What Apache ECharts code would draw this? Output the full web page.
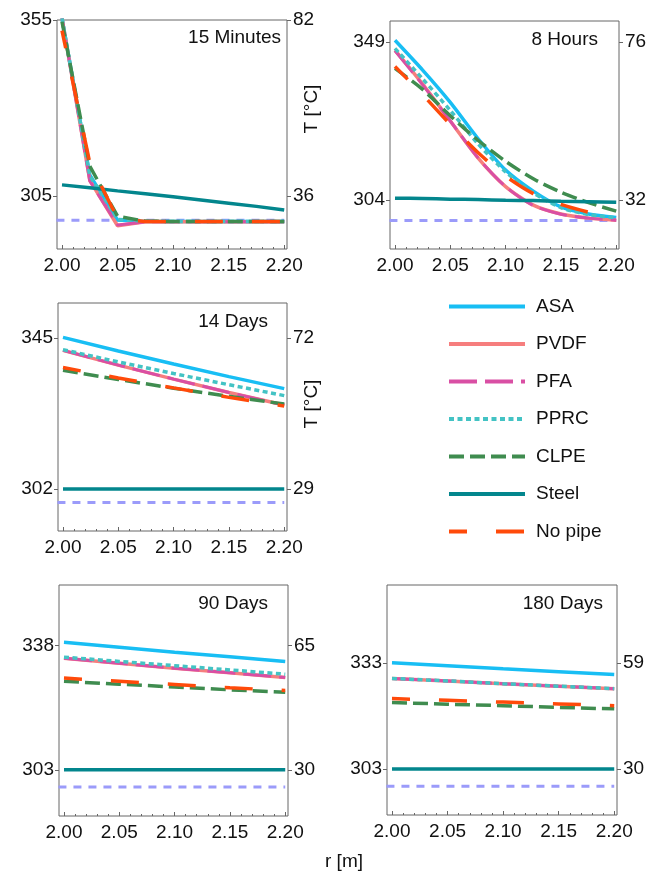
<!DOCTYPE html>
<html>
<head>
<meta charset="utf-8">
<script src="https://cdn.jsdelivr.net/npm/echarts@6/dist/echarts.min.js"></script>
<style>
html,body{margin:0;padding:0;background:#fff}
#chart{width:663px;height:875px}
</style>
</head>
<body>
<div id="chart"></div>
<script>
// radius nodes
var rFine = [2.000, 2.025, 2.050, 2.075, 2.100, 2.125, 2.150, 2.175, 2.200];
var rCoarse = [2.00, 2.05, 2.10, 2.15, 2.20];
var rInitial = [1.995, 2.20];
var rTicks = [2.00, 2.05, 2.10, 2.15, 2.20];
var rMinorTicks = [2.01, 2.02, 2.03, 2.04, 2.06, 2.07, 2.08, 2.09, 2.11, 2.12, 2.13, 2.14, 2.16, 2.17, 2.18, 2.19];

// initial ground temperature [K]
var initialT = [298.15, 298.15];

// 15 minutes
var asa15min    = [355.5, 311.0, 298.2, 297.8, 297.8, 297.8, 297.8, 297.8, 297.8];
var pvdf15min   = [355.5, 309.5, 296.6, 297.7, 297.7, 297.7, 297.7, 297.7, 297.7];
var pfa15min    = [355.5, 309.3, 296.8, 297.7, 297.7, 297.7, 297.7, 297.7, 297.7];
var pprc15min   = [355.5, 310.8, 298.4, 297.9, 297.8, 297.8, 297.8, 297.8, 297.8];
var clpe15min   = [354.5, 313.5, 299.3, 297.9, 297.8, 297.8, 297.8, 297.8, 297.8];
var steel15min  = [308.2, 307.4, 306.5, 305.7, 304.8, 303.9, 303.0, 302.1, 301.1];
var noPipe15min = [352.0, 314.5, 298.6, 297.8, 297.8, 297.8, 297.8, 297.8, 297.8];

// 8 hours
var asa8h    = [349.5, 341.0, 331.8, 321.5, 312.5, 306.5, 302.0, 300.0, 299.0];
var pvdf8h   = [346.7, 337.0, 326.5, 316.0, 307.8, 302.5, 300.0, 298.8, 298.2];
var pfa8h    = [346.5, 336.8, 326.5, 316.0, 307.8, 302.4, 299.9, 298.8, 298.2];
var pprc8h   = [347.2, 338.5, 329.5, 320.0, 312.0, 306.0, 301.8, 299.8, 298.9];
var clpe8h   = [341.5, 335.5, 328.0, 321.0, 315.0, 310.0, 306.2, 303.2, 300.8];
var steel8h  = [304.5, 304.4, 304.2, 304.1, 303.9, 303.8, 303.6, 303.5, 303.3];
var noPipe8h = [342.0, 334.0, 325.5, 317.5, 310.8, 305.8, 302.7, 300.5, 298.9];

// 14 days
var asa14d    = [345.2, 341.3, 337.6, 334.0, 330.6];
var pvdf14d   = [341.5, 337.3, 333.3, 329.5, 325.9];
var pfa14d    = [341.5, 337.3, 333.3, 329.5, 325.9];
var pprc14d   = [341.7, 338.2, 334.9, 331.7, 328.6];
var clpe14d   = [335.8, 333.2, 330.7, 328.4, 326.2];
var steel14d  = [302.0, 302.0, 302.0, 302.0, 302.0];
var noPipe14d = [336.6, 333.6, 330.8, 328.1, 325.6];

// 90 days
var asa90d    = [338.9, 337.5, 336.1, 334.8, 333.5];
var pvdf90d   = [334.4, 333.0, 331.6, 330.3, 329.0];
var pfa90d    = [334.4, 333.0, 331.6, 330.3, 329.0];
var pprc90d   = [334.7, 333.5, 332.3, 331.1, 329.9];
var clpe90d   = [327.9, 327.1, 326.3, 325.5, 324.8];
var steel90d  = [303.0, 303.0, 303.0, 303.0, 303.0];
var noPipe90d = [328.8, 327.9, 327.0, 326.1, 325.3];

// 180 days
var asa180d    = [333.0, 332.2, 331.3, 330.5, 329.7];
var pvdf180d   = [328.6, 327.9, 327.1, 326.4, 325.7];
var pfa180d    = [328.6, 327.9, 327.1, 326.4, 325.7];
var pprc180d   = [328.6, 327.9, 327.1, 326.4, 325.7];
var clpe180d   = [321.8, 321.3, 320.9, 320.4, 320.0];
var steel180d  = [303.0, 303.0, 303.0, 303.0, 303.0];
var noPipe180d = [322.9, 322.4, 321.9, 321.4, 320.9];

// tick labels: kelvin on the left, celsius on the right
var kTicks15min = [305, 355], cTicks15min = [36, 82];
var kTicks8h = [304, 349],    cTicks8h = [32, 76];
var kTicks14d = [302, 345],   cTicks14d = [29, 72];
var kTicks90d = [303, 338],   cTicks90d = [30, 65];
var kTicks180d = [303, 333],  cTicks180d = [30, 59];

var materials = ['ASA', 'PVDF', 'PFA', 'PPRC', 'CLPE', 'Steel', 'No pipe'];
var styles = {
  'ASA':     {color: '#18BEF4', width: 3.5, type: 'solid'},
  'PVDF':    {color: '#F67E7E', width: 3.5, type: 'solid'},
  'PFA':     {color: '#D94FA4', width: 3,   type: [28, 8]},
  'PPRC':    {color: '#43C3C4', width: 3.5, type: [5, 3.5]},
  'CLPE':    {color: '#3F8C4F', width: 3.5, type: [15, 6]},
  'Steel':   {color: '#03868D', width: 3.5, type: 'solid'},
  'No pipe': {color: '#FF4A0A', width: 3.5, type: [28, 29], dashOffset: 10}
};
var FONT = 'Liberation Sans, Arial, sans-serif';

var panels = [
  {box: {left: 57, top: 20, width: 230, height: 229}, r: rFine, kTicks: kTicks15min, cTicks: cTicks15min, smooth: false,
   lines: [asa15min, pvdf15min, pfa15min, pprc15min, clpe15min, steel15min, noPipe15min], title: '15 Minutes', tx: 281, ty: 38},
  {box: {left: 390, top: 21, width: 229, height: 228}, r: rFine, kTicks: kTicks8h, cTicks: cTicks8h, smooth: 0.25,
   lines: [asa8h, pvdf8h, pfa8h, pprc8h, clpe8h, steel8h, noPipe8h], title: '8 Hours', tx: 598, ty: 40},
  {box: {left: 58, top: 303, width: 229, height: 228}, r: rCoarse, kTicks: kTicks14d, cTicks: cTicks14d, smooth: false,
   lines: [asa14d, pvdf14d, pfa14d, pprc14d, clpe14d, steel14d, noPipe14d], title: '14 Days', tx: 268, ty: 322},
  {box: {left: 59, top: 585, width: 229, height: 231}, r: rCoarse, kTicks: kTicks90d, cTicks: cTicks90d, smooth: false,
   lines: [asa90d, pvdf90d, pfa90d, pprc90d, clpe90d, steel90d, noPipe90d], title: '90 Days', tx: 268, ty: 604},
  {box: {left: 387, top: 585, width: 230, height: 230}, r: rCoarse, kTicks: kTicks180d, cTicks: cTicks180d, smooth: false,
   lines: [asa180d, pvdf180d, pfa180d, pprc180d, clpe180d, steel180d, noPipe180d], title: '180 Days', tx: 603, ty: 604}
];

function zip(xs, ys) {
  return xs.map(function (x, i) { return [x, ys[i]]; });
}

var grids = [], xAxes = [], yAxes = [], series = [], graphics = [];
var tickColor = '#666';

panels.forEach(function (p, i) {
  grids.push({left: p.box.left, top: p.box.top, width: p.box.width, height: p.box.height,
    show: true, borderColor: '#666', borderWidth: 1, backgroundColor: 'transparent'});

  xAxes.push({
    type: 'value', gridIndex: i, min: 1.9955, max: 2.2025, position: 'bottom',
    axisLine: {show: false}, splitLine: {show: false},
    axisTick: {show: true, inside: true, length: 4, customValues: rTicks, lineStyle: {color: tickColor}},
    axisLabel: {customValues: rTicks, formatter: function (v) { return v.toFixed(2); },
      fontSize: 19, fontFamily: FONT, color: '#111', margin: 7}
  });
  // minor ticks, pushed down onto the bottom edge
  xAxes.push({
    type: 'value', gridIndex: i, min: 1.9955, max: 2.2025, position: 'top', offset: -p.box.height,
    axisLine: {show: false}, splitLine: {show: false}, axisLabel: {show: false},
    axisTick: {show: true, inside: false, length: 2, customValues: rMinorTicks, lineStyle: {color: tickColor}}
  });

  yAxes.push({
    type: 'value', gridIndex: i, min: 290, max: 355, position: 'left',
    axisLine: {show: false}, splitLine: {show: false},
    axisTick: {show: true, length: 4, customValues: p.kTicks, lineStyle: {color: tickColor}},
    axisLabel: {customValues: p.kTicks, fontSize: 19, fontFamily: FONT, color: '#111', margin: 5}
  });
  yAxes.push({
    type: 'value', gridIndex: i, min: 290, max: 355, position: 'right',
    axisLine: {show: false}, splitLine: {show: false},
    axisTick: {show: true, length: 4, customValues: p.kTicks, lineStyle: {color: tickColor}},
    axisLabel: {customValues: p.kTicks, fontSize: 19, fontFamily: FONT, color: '#111', margin: 6,
      formatter: function (v) { return String(p.cTicks[p.kTicks.indexOf(v)]); }}
  });

  series.push({
    name: 'Initial', type: 'line', xAxisIndex: 2 * i, yAxisIndex: 2 * i,
    data: zip(rInitial, initialT), symbol: 'none', silent: true,
    lineStyle: {color: '#9B9BFA', width: 3, type: [8, 7]}
  });
  materials.forEach(function (m, k) {
    var s = styles[m];
    series.push({
      name: m, type: 'line', xAxisIndex: 2 * i, yAxisIndex: 2 * i,
      data: zip(p.r, p.lines[k]), symbol: 'none',
      smooth: p.smooth,
      lineStyle: {color: s.color, width: s.width, type: s.type, dashOffset: s.dashOffset || 0, cap: 'butt'},
      itemStyle: {color: s.color}
    });
  });

  graphics.push({type: 'text', x: p.tx, y: p.ty,
    style: {text: p.title, align: 'right', verticalAlign: 'middle', font: '19px ' + FONT, fill: '#111'}});
});

graphics.push({type: 'text', x: 312, y: 109, rotation: Math.PI / 2,
  style: {text: 'T [°C]', align: 'center', verticalAlign: 'middle', font: '19px ' + FONT, fill: '#111'}});
graphics.push({type: 'text', x: 312, y: 404, rotation: Math.PI / 2,
  style: {text: 'T [°C]', align: 'center', verticalAlign: 'middle', font: '19px ' + FONT, fill: '#111'}});
graphics.push({type: 'text', x: 344, y: 862,
  style: {text: 'r [m]', align: 'center', verticalAlign: 'middle', font: '19px ' + FONT, fill: '#111'}});

var chart = echarts.init(document.getElementById('chart'));
chart.setOption({
  animation: false,
  backgroundColor: '#fff',
  grid: grids,
  xAxis: xAxes,
  yAxis: yAxes,
  legend: {
    data: materials, orient: 'vertical', left: 447, top: 297, padding: 0,
    itemWidth: 76, itemHeight: 20, itemGap: 18.5, selectedMode: false,
    lineStyle: {width: 4},
    // hide the default symbol drawn in the middle of each legend line
    itemStyle: {color: 'rgba(0,0,0,0)', borderColor: 'rgba(0,0,0,0)', borderWidth: 0, opacity: 0},
    textStyle: {fontSize: 19, fontFamily: FONT, color: '#111', padding: [0, 0, 0, 6]}
  },
  series: series,
  graphic: graphics
});
</script>
</body>
</html>
